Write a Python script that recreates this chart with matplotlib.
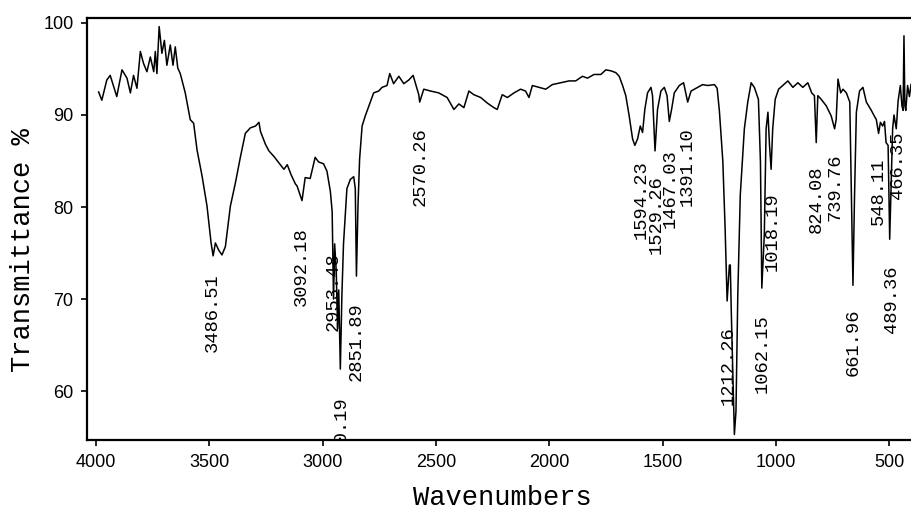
import numpy as np
import matplotlib
matplotlib.use('Agg')
import matplotlib.pyplot as plt

# IR spectrum
wavenumber = [3988, 3974, 3952, 3937, 3908, 3885, 3863, 3848, 3834, 3819,
              3804, 3790, 3775, 3760, 3745, 3738, 3731, 3721, 3709, 3698,
              3687, 3672, 3660, 3650, 3639, 3628, 3606, 3584, 3569, 3554,
              3532, 3510, 3492, 3483, 3473, 3458, 3444, 3429, 3407, 3385,
              3363, 3341, 3319, 3296, 3281, 3274, 3252, 3237, 3215, 3193,
              3171, 3156, 3139, 3120, 3113, 3091, 3077, 3055, 3033, 3018,
              2996, 2981, 2966, 2958, 2952, 2947, 2940, 2934, 2929, 2922,
              2915, 2908, 2893, 2878, 2863, 2856, 2851, 2844, 2837, 2826,
              2812, 2790, 2775, 2753, 2738, 2716, 2704, 2687, 2664, 2642,
              2620, 2601, 2576, 2572, 2554, 2524, 2488, 2451, 2421, 2399,
              2377, 2355, 2333, 2303, 2274, 2245, 2230, 2208, 2185, 2156,
              2127, 2105, 2090, 2075, 2046, 2016, 1987, 1950, 1913, 1884,
              1854, 1832, 1803, 1773, 1751, 1729, 1707, 1692, 1677, 1663,
              1648, 1633, 1623, 1611, 1599, 1589, 1579, 1567, 1552, 1545,
              1534, 1523, 1508, 1493, 1481, 1471, 1461, 1449, 1427, 1408,
              1390, 1375, 1346, 1324, 1302, 1272, 1260, 1250, 1235, 1225,
              1216, 1206, 1202, 1198, 1184, 1177, 1169, 1158, 1140, 1125,
              1110, 1096, 1078, 1069, 1063, 1052, 1044, 1036, 1029, 1022,
              1015, 1004, 989, 971, 948, 926, 904, 882, 860, 843,
              831, 823, 816, 801, 779, 757, 742, 735, 727, 715,
              705, 690, 675, 668, 661, 654, 646, 632, 617, 602,
              580, 565, 558, 548, 540, 530, 522, 515, 506, 499,
              492, 486, 480, 470, 462, 452, 445, 440, 436, 432,
              428, 420, 412, 405]
transmittance = [92.5, 91.6, 93.8, 94.3, 92.0, 94.9, 94.0, 92.4, 94.3, 92.9,
                 96.9, 95.6, 94.7, 96.3, 94.7, 96.9, 94.5, 99.6, 96.7, 98.1,
                 95.4, 97.6, 95.4, 97.4, 95.1, 94.5, 92.4, 89.5, 89.1, 86.2,
                 83.4, 80.1, 76.1, 74.7, 76.1, 75.3, 74.8, 75.7, 80.1, 82.6,
                 85.4, 88.0, 88.6, 88.8, 89.2, 88.2, 86.8, 86.1, 85.5, 84.8,
                 84.1, 84.6, 83.5, 82.5, 82.3, 80.7, 83.2, 83.1, 85.4, 84.9,
                 84.7, 83.9, 81.7, 79.5, 70.0, 76.0, 73.0, 66.8, 71.0, 62.4,
                 70.5, 76.0, 82.0, 83.0, 83.3, 82.0, 72.5, 80.2, 85.2, 88.8,
                 89.9, 91.4, 92.4, 92.6, 93.0, 93.2, 94.5, 93.4, 94.2, 93.4,
                 93.8, 94.3, 92.2, 91.4, 92.8, 92.6, 92.4, 91.9, 90.6, 91.2,
                 90.8, 92.6, 92.2, 91.9, 91.3, 90.8, 90.6, 92.2, 91.9, 92.4,
                 92.8, 92.6, 91.9, 93.2, 93.0, 92.8, 93.3, 93.5, 93.7, 93.7,
                 94.2, 94.0, 94.4, 94.4, 94.9, 94.8, 94.6, 94.2, 93.2, 92.1,
                 89.9, 87.4, 86.7, 87.4, 88.8, 88.1, 90.6, 92.4, 93.0, 92.1,
                 86.1, 90.6, 92.6, 93.0, 92.1, 89.3, 90.6, 92.4, 93.2, 93.5,
                 91.4, 92.6, 93.0, 93.3, 93.2, 93.3, 92.9, 90.4, 85.0, 77.8,
                 69.8, 73.7, 73.7, 69.0, 55.3, 57.8, 70.4, 81.3, 88.5, 91.4,
                 93.5, 93.0, 91.7, 84.9, 71.2, 77.0, 88.5, 90.3, 86.7, 84.1,
                 88.5, 91.7, 92.8, 93.2, 93.7, 93.0, 93.5, 93.0, 93.5, 92.4,
                 92.1, 87.0, 92.1, 91.7, 91.0, 89.9, 88.5, 89.5, 93.9, 92.4,
                 92.8, 92.4, 91.4, 81.3, 71.5, 81.3, 90.3, 92.6, 93.0, 91.4,
                 90.5, 89.8, 89.5, 88.0, 89.2, 88.8, 89.3, 87.0, 86.7, 76.5,
                 83.0, 88.5, 90.0, 88.5, 91.5, 93.2, 91.0, 90.5, 98.6, 91.0,
                 90.5, 93.2, 92.0, 93.3]

peak_labels = ['3486.51', '3092.18', '2953.48', '2920.19', '2851.89', '2570.26',
               '1594.23', '1529.26', '1467.03', '1391.10', '1212.26', '1062.15',
               '1018.19', '824.08', '739.76', '661.96', '548.11', '489.36', '466.35']
label_top = [72.8, 77.8, 75.1, 59.5, 69.7, 88.7,
             85.1, 83.4, 86.3, 88.7, 67.0, 68.4,
             81.6, 84.5, 85.8, 69.0, 85.4, 73.7, 88.2]

mono = ['Liberation Mono', 'DejaVu Sans Mono']

fig = plt.figure(figsize=(9.11, 5.12), dpi=100)
ax = fig.add_axes([87.3/911, 1 - 440/512, 1 - 87.3/911, (440 - 18.3)/512])
ax.plot(wavenumber, transmittance, color='black', lw=1.1)

for lab, top in zip(peak_labels, label_top):
    ax.text(float(lab), top, lab, rotation=90, ha='center', va='top',
            family=mono, fontsize=13.5, clip_on=True)

ax.set_xlim(4038, 405)
ax.set_ylim(54.7, 100.5)
ax.set_xticks([4000, 3500, 3000, 2500, 2000, 1500, 1000, 500])
ax.set_yticks([60, 70, 80, 90, 100])
ax.spines['right'].set_visible(False)
for s in ['top', 'left', 'bottom']:
    ax.spines[s].set_linewidth(1.6)
ax.tick_params(direction='out', length=4, width=1.2, pad=6)
for t in ax.get_xticklabels() + ax.get_yticklabels():
    t.set_family('Liberation Sans')
    t.set_fontsize(13)

fig.text(502/911, 1 - 498/512, 'Wavenumbers', family=mono, fontsize=19.5,
         ha='center', va='center')
fig.text(23/911, 1 - 250/512, 'Transmittance %', family=mono, fontsize=19.5,
         rotation=90, ha='center', va='center')

fig.savefig('out.png', dpi=100)
